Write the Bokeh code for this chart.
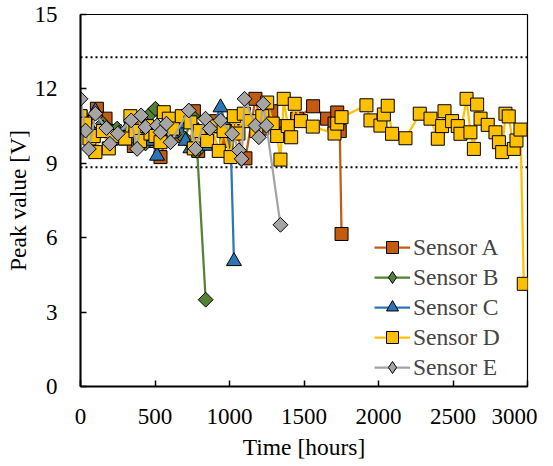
from math import pi
from bokeh.plotting import figure
from bokeh.models import Range1d, FixedTicker, Span, Legend, LegendItem
from bokeh.embed import file_html
from bokeh.resources import INLINE

x_ticks = [0, 500, 1000, 1500, 2000, 2500, 3000]
y_ticks = [0, 3, 6, 9, 12, 15]
upper_limit = 13.28
lower_limit = 8.84

a_t = [0, 45, 110, 168, 230, 300, 358, 410, 470, 537, 590, 650, 720, 761, 790, 850, 910, 980, 1040,
       1107, 1174, 1220, 1280, 1320, 1380, 1454, 1561, 1655, 1705, 1723, 1740, 1752]
a_v = [10.9, 10.5, 11.2, 10.8, 10.3, 10.0, 9.7, 10.6, 9.9, 9.25, 10.4, 10.1, 10.9, 11.1, 9.5, 10.2, 10.7,
       9.9, 10.3, 9.2, 11.6, 10.4, 11.1, 10.5, 10.2, 10.8, 11.3, 10.8, 10.6, 11.05, 10.3, 6.15]

b_t = [0, 40, 90, 150, 200, 246, 310, 360, 436, 470, 503, 540, 600, 649, 700, 750, 783, 840]
b_v = [10.8, 10.4, 10.2, 10.6, 10.3, 10.4, 10.3, 9.9, 9.8, 11.0, 11.2, 10.2, 10.6, 10.4, 10.0, 10.9, 9.5, 3.5]

c_t = [0, 50, 100, 150, 200, 260, 320, 370, 430, 480, 514, 560, 610, 660, 705, 738, 790, 839, 880,
       940, 980, 1010, 1030]
c_v = [11.0, 10.6, 11.1, 10.4, 9.9, 10.2, 10.5, 10.0, 10.3, 9.9, 9.3, 10.5, 10.2, 10.6, 9.9, 9.6, 10.3,
       9.7, 10.4, 11.25, 10.5, 9.4, 5.05]

d_t = [0, 30, 60, 89, 100, 150, 190, 230, 300, 335, 369, 400, 447, 470, 503, 537, 559, 593, 620, 680,
       738, 760, 800, 850, 880, 928, 960, 1007, 1029, 1060, 1096, 1140, 1180, 1220, 1253, 1290, 1320,
       1342, 1364, 1391, 1414, 1438, 1480, 1559, 1705, 1723, 1752, 1919, 1946, 2013, 2036, 2062, 2091,
       2181, 2277, 2349, 2398, 2427, 2443, 2494, 2532, 2550, 2591, 2617, 2640, 2662, 2685, 2733, 2785,
       2808, 2830, 2852, 2874, 2908, 2926, 2953, 2975]
d_v = [10.9, 10.6, 10.0, 10.1, 9.45, 10.3, 9.6, 10.1, 10.0, 10.9, 10.3, 9.9, 10.5, 10.2, 10.1, 9.85,
       11.06, 10.8, 10.4, 10.9, 10.65, 9.6, 10.3, 9.9, 10.5, 9.5, 10.3, 9.25, 10.9, 10.2, 11.0, 10.7,
       10.3, 10.9, 11.45, 10.6, 10.1, 9.15, 11.6, 10.5, 10.05, 11.4, 10.7, 10.48, 10.2, 10.6, 10.86,
       11.34, 10.73, 10.52, 10.97, 11.32, 10.19, 10.01, 11.0, 10.8, 9.99, 10.5, 11.1, 10.7, 10.5, 10.19,
       11.6, 10.25, 9.58, 11.37, 10.8, 10.55, 10.25, 9.85, 9.45, 11.0, 10.89, 9.58, 9.92, 10.36, 4.14]

e_t = [0, 34, 56, 100, 174, 197, 250, 340, 380, 407, 436, 514, 537, 577, 604, 727, 772, 839, 868, 940,
       1018, 1063, 1081, 1101, 1174, 1197, 1226, 1248, 1342]
e_v = [11.6, 10.32, 9.58, 11.0, 10.42, 9.79, 10.2, 10.73, 9.58, 10.93, 10.46, 10.52, 10.25, 10.6, 9.85,
       11.13, 9.58, 10.8, 10.4, 10.73, 10.19, 9.52, 9.18, 11.6, 10.52, 10.05, 11.4, 10.52, 6.52]

FONT = "'Liberation Serif', serif"

p = figure(width=537, height=466, output_backend="svg", toolbar_location=None,
           x_range=Range1d(0, 3000), y_range=Range1d(0, 15),
           min_border_left=80, min_border_right=10, min_border_top=14, min_border_bottom=80)

p.xgrid.visible = False
p.ygrid.visible = False
p.outline_line_color = "black"
p.outline_line_width = 1.2

for loc in (upper_limit, lower_limit):
    p.add_layout(Span(location=loc, dimension="width", line_color="black", line_width=2,
                      line_dash="2 3", level="underlay"))

series = [
    ("Sensor A", a_t, a_v, "#C55A11", "square", 13, 0, "square"),
    ("Sensor B", b_t, b_v, "#548235", "square", 10.5, pi / 4, "diamond"),
    ("Sensor C", c_t, c_v, "#2E75B6", "triangle", 15, 0, "triangle"),
    ("Sensor D", d_t, d_v, "#FFC000", "square", 13, 0, "square"),
    ("Sensor E", e_t, e_v, "#A5A5A5", "square", 10.5, pi / 4, "diamond"),
]
items = []
for name, t, v, col, mk, sz, ang, legmk in series:
    ln = p.line(t, v, line_color=col, line_width=2.25)
    sc = p.scatter(t, v, marker=mk, size=sz, angle=ang, fill_color=col, line_color="black",
                   line_width=1)
    if legmk == mk:
        items.append(LegendItem(label=name, renderers=[ln, sc]))
    else:
        lg_sc = p.scatter(t, v, marker=legmk, size=sz, fill_color=col, line_color="black",
                          line_width=1, visible=False)
        items.append(LegendItem(label=name, renderers=[ln, lg_sc]))

for ax in (p.xaxis[0], p.yaxis[0]):
    ax.axis_line_color = "black"
    ax.axis_line_width = 2
    ax.major_tick_line_color = "black"
    ax.major_tick_line_width = 1.5
    ax.major_tick_in = 6
    ax.major_tick_out = 0
    ax.minor_tick_line_color = None
    ax.major_label_text_font = FONT
    ax.major_label_text_font_size = "23px"
    ax.major_label_text_color = "black"
    ax.axis_label_text_font = FONT
    ax.axis_label_text_font_size = "23.5px"
    ax.axis_label_text_font_style = "normal"
    ax.axis_label_text_color = "black"

p.xaxis.ticker = FixedTicker(ticks=x_ticks)
p.yaxis.ticker = FixedTicker(ticks=y_ticks)
p.xaxis.axis_label = "Time [hours]"
p.yaxis.axis_label = "Peak value [V]"
p.xaxis.major_label_standoff = 22
p.yaxis.major_label_standoff = 23
p.xaxis.axis_label_standoff = 7
p.yaxis.axis_label_standoff = 1

lg = Legend(items=items, location=(294, 4))
lg.label_text_font = FONT
lg.label_text_font_size = "23.5px"
lg.glyph_width = 36
lg.glyph_height = 30
lg.label_height = 30
lg.spacing = 0
lg.padding = 0
lg.margin = 0
lg.label_standoff = 3
lg.border_line_alpha = 0
lg.background_fill_alpha = 0
p.add_layout(lg, "center")

open("out.html", "w").write(file_html(p, INLINE))
